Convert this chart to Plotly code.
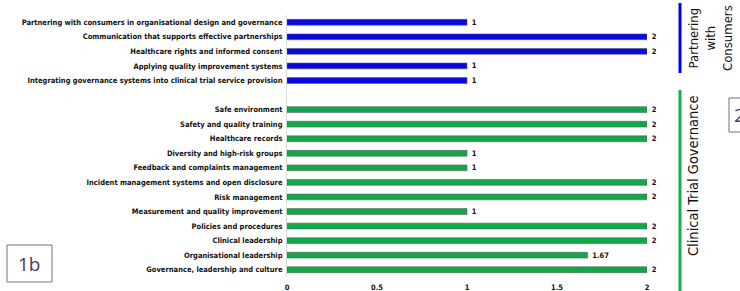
import plotly.graph_objects as go

# ---- data ----
consumer_labels = [
    "Partnering with consumers in organisational design and governance",
    "Communication that supports effective partnerships",
    "Healthcare rights and informed consent",
    "Applying quality improvement systems",
    "Integrating governance systems into clinical trial service provision",
]
consumer_values = [1, 2, 2, 1, 1]

governance_labels = [
    "Safe environment",
    "Safety and quality training",
    "Healthcare records",
    "Diversity and high-risk groups",
    "Feedback and complaints management",
    "Incident management systems and open disclosure",
    "Risk management",
    "Measurement and quality improvement",
    "Policies and procedures",
    "Clinical leadership",
    "Organisational leadership",
    "Governance, leadership and culture",
]
governance_values = [2, 2, 2, 1, 1, 2, 2, 1, 2, 2, 1.67, 2]

x_ticks = [0, 0.5, 1, 1.5, 2]

# ---- layout geometry (pixels) ----
W, H = 740, 291
L, R, T, B = 287, 93, 15, 14
PW, PH = W - L - R, H - T - B


def px(x):
    return (x - L) / PW


def py(y):
    return 1 - (y - T) / PH


spacer = " "
category_order = consumer_labels + [spacer] + governance_labels

LABEL_FONT = "DejaVu Sans Condensed, sans-serif"
BIG_FONT = "DejaVu Sans Condensed, sans-serif"
small = dict(family=LABEL_FONT, size=7.5, color="#111", weight="bold")
big = dict(family=BIG_FONT, size=14.5, color="#111", weight="normal")
box_font = dict(family="Open Sans, sans-serif", size=19, color="#4a3a66", weight="normal")

NB = "\u00a0\u00a0"

fig = go.Figure()
fig.add_trace(go.Bar(
    y=consumer_labels, x=consumer_values, orientation="h",
    marker=dict(color="#0808E0", line=dict(color="rgba(90,90,90,0.55)", width=1)),
    width=0.4, text=[f"{NB}{v:g}" for v in consumer_values], textposition="outside",
    textfont=small, cliponaxis=False, constraintext="none",
    showlegend=False,
))
fig.add_trace(go.Bar(
    y=governance_labels, x=governance_values, orientation="h",
    marker=dict(color="#12A84A", line=dict(color="rgba(90,90,90,0.55)", width=1)),
    width=0.4, text=[f"{NB}{v:g}" for v in governance_values], textposition="outside",
    textfont=small, cliponaxis=False, constraintext="none",
    showlegend=False,
))

fig.update_layout(
    width=W, height=H,
    margin=dict(l=L, r=R, t=T, b=B, autoexpand=False),
    paper_bgcolor="white", plot_bgcolor="white",
    bargap=0.6,
    font=small,
    xaxis=dict(range=[0, 2], tickvals=x_ticks, ticktext=[f"{v:g}" for v in x_ticks],
               showgrid=False, zeroline=False, showline=False,
               ticks="outside", ticklen=3, tickcolor="rgba(0,0,0,0)",
               tickfont=small, automargin=False),
    yaxis=dict(type="category", categoryorder="array", categoryarray=category_order,
               autorange="reversed", showgrid=False, zeroline=False,
               showline=True, linecolor="#d9d9d9", linewidth=1, ticks="",
               tickfont=small, automargin=False, ticklabelstandoff=2),
)

shapes = [
    dict(type="line", xref="paper", yref="paper", x0=px(680), x1=px(680), y0=py(3), y1=py(73),
         line=dict(color="#0000EE", width=3)),
    dict(type="line", xref="paper", yref="paper", x0=px(680), x1=px(680), y0=py(90), y1=py(291),
         line=dict(color="#12B04A", width=3)),
    dict(type="rect", xref="paper", yref="paper", x0=px(7), x1=px(52), y0=py(245), y1=py(282),
         line=dict(color="#7b6d8d", width=1)),
    dict(type="rect", xref="paper", yref="paper", x0=px(729), x1=px(770), y0=py(98), y1=py(132),
         line=dict(color="#7b6d8d", width=1)),
]
annotations = [
    dict(text="Partnering<br>with<br>Consumers", xref="paper", yref="paper",
         x=px(711), y=py(38), textangle=-90, showarrow=False,
         font=dict(family=BIG_FONT, size=13, color="#111", weight="normal"),
         xanchor="center", yanchor="middle"),
    dict(text="Clinical Trial Governance", xref="paper", yref="paper",
         x=px(693), y=py(176), textangle=-90, showarrow=False,
         font=big, xanchor="center", yanchor="middle"),
    dict(text="1b", xref="paper", yref="paper", x=px(29.5), y=py(263.5), showarrow=False,
         font=box_font, xanchor="center", yanchor="middle"),
    dict(text="2", xref="paper", yref="paper", x=px(732), y=py(115), showarrow=False,
         font=box_font, xanchor="left", yanchor="middle"),
]
fig.update_layout(shapes=shapes, annotations=annotations)

fig.write_html("out.html", config={"displayModeBar": False},
               post_script="document.body.style.margin='0';document.body.style.overflow='hidden';")
